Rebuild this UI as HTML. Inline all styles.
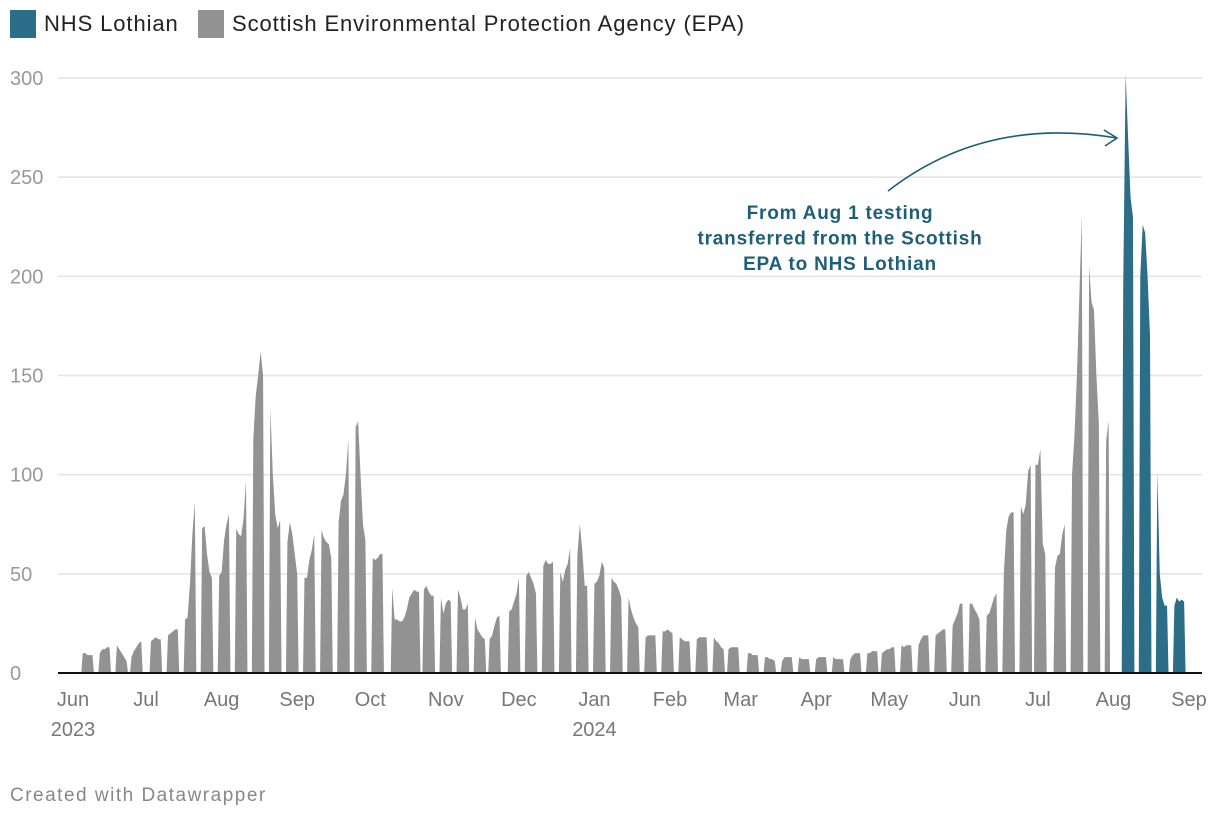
<!DOCTYPE html>
<html><head><meta charset="utf-8"><style>
body{margin:0;background:#fff;width:1220px;height:820px;overflow:hidden;font-family:"Liberation Sans",sans-serif}
.leg{position:absolute;top:10px;font-size:22px;color:#222;display:flex;align-items:center;letter-spacing:0.9px}
.sw{display:inline-block;width:26px;height:28px;margin-right:8px}
</style></head><body>
<div class="leg" style="left:10px"><span class="sw" style="background:#2c6e87"></span>NHS Lothian</div>
<div class="leg" style="left:198px"><span class="sw" style="background:#929292"></span>Scottish Environmental Protection Agency (EPA)</div>
<svg id="chart" width="1220" height="820" style="position:absolute;left:0;top:0"></svg>
<div style="position:absolute;left:10px;top:785px;font-size:19px;letter-spacing:1.5px;color:#888">Created with Datawrapper</div>
<script>
// data: day offsets from 2023-06-01, values per day
const grayStarts=[4,11,18,24,32,39,46,53,60,67,74,81,88,95,102,109,116,123,131,144,151,158,165,171,179,186,193,200,207,214,221,228,235,242,249,256,263,269,277,284,291,298,305,312,319,326,332,340,347,354,361,368,375,382,389,395,403,410,417,424];
const grayValues=[[10,10,9,9,9],[10,12,12,13,13],[14,12,10,8,6],[8,11,13,15,16],[16,17,18,17,17],[19,20,21,22,22],[27,28,45,70,86],[73,74,60,51,48],[49,51,67,75,80],[73,70,69,78,97],[118,140,150,162,150],[134,100,80,73,77],[66,76,70,60,50],[48,48,57,62,70],[72,68,66,65,58],[76,87,90,100,118],[124,127,100,75,67],[58,57,58,60,60],[43,27,27,26,26,28,32,38,40,42,41,41],[42,44,41,39,39],[38,30,35,37,36],[42,38,32,32,35],[28,22,20,18,17],[17,19,24,28,29],[31,32,36,40,48],[49,51,48,45,40],[54,57,55,55,56],[51,46,52,55,63],[60,75,62,44,44],[45,46,49,56,53],[48,46,45,42,38],[38,32,28,25,23],[18,19,19,19,19],[21,21,22,21,20],[18,17,16,16,16],[17,18,18,18,18],[18,16,15,13,12],[12,13,13,13,13],[10,10,9,9,9],[8,8,7,7,6],[6,8,8,8,8],[8,7,7,7,7],[7,8,8,8,8],[8,7,7,7,7],[7,9,10,10,10],[10,10,11,11,11],[10,11,12,12,13,13],[14,13,14,14,14],[14,17,19,19,19],[19,20,21,22,22],[24,27,30,35,35],[35,35,32,30,27],[29,30,34,38,40],[50,72,79,81,81],[84,80,85,102,105],[105,105,113,65,60],[53,59,60,70,75],[100,120,150,190,231],[205,187,183,150,126],[117,127]];
const blueStarts=[431,438,445,452];
const blueValues=[[195,302,270,240,230],[200,226,222,200,170],[102,50,38,34,34],[34,38,36,37,36]];
const yTicks=[0,50,100,150,200,250,300];
const monthLabels=["Jun","Jul","Aug","Sep","Oct","Nov","Dec","Jan","Feb","Mar","Apr","May","Jun","Jul","Aug","Sep"];
const yearLabels=[["2023",0],["2024",7]];

const NS="http://www.w3.org/2000/svg";
const svg=document.getElementById('chart');
const X0=73,PXD=(1189-73)/458;
const xs=d=>X0+d*PXD;
const ys=v=>673-v*(673-78)/300;
function el(t,a){const e=document.createElementNS(NS,t);for(const k in a)e.setAttribute(k,a[k]);svg.appendChild(e);return e;}
yTicks.forEach(t=>{
 if(t>0){const g=el('line',{x1:58,x2:1202,y1:ys(t),y2:ys(t),stroke:'#e3e3e3','stroke-width':1.5});
 
 }
 const l=el('text',{x:10,y:ys(t)+7,'font-size':20,fill:'#999','font-family':'Liberation Sans, sans-serif'});
 l.textContent=t;
 
 
});
function draw(starts,vals,color,name){
 starts.forEach((s,i)=>{
  const v=vals[i];let p=[[xs(s-0.6),ys(0)]];
  v.forEach((val,j)=>p.push([xs(s+j),ys(val)]));
  p.push([xs(s+v.length-1+0.6),ys(0)]);
  const e=el('polygon',{points:p.map(q=>q.join(',')).join(' '),fill:color});
  
  
 });
}
draw(grayStarts,grayValues,'#929292','epa');
draw(blueStarts,blueValues,'#2c6e87','nhs');
const ax=el('line',{x1:58,x2:1202,y1:673,y2:673,stroke:'#111','stroke-width':2});


monthLabels.forEach((m,i)=>{
 const d=new Date(Date.UTC(2023,5+i,1));const off=(d-Date.UTC(2023,5,1))/864e5;
 const t=el('text',{x:xs(off),y:706,'font-size':20,fill:'#777','text-anchor':'middle','font-family':'Liberation Sans, sans-serif'});
 t.textContent=m;
 
 
});
yearLabels.forEach(([y,i])=>{
 const d=new Date(Date.UTC(2023,5+i,1));const off=(d-Date.UTC(2023,5,1))/864e5;
 const t=el('text',{x:xs(off),y:736,'font-size':20,fill:'#777','text-anchor':'middle','font-family':'Liberation Sans, sans-serif'});
 t.textContent=y;
 
 
});
const arr=el('path',{d:'M888,191 C960,135 1040,125 1117,138 M1104,130 L1117,138 L1105,146',fill:'none',stroke:'#1d5f78','stroke-width':1.6});


["From Aug 1 testing","transferred from the Scottish","EPA to NHS Lothian"].forEach((s,i)=>{
 const t=el('text',{x:840,y:219+i*25.5,'font-size':19,'font-weight':'bold',fill:'#1d5f78','text-anchor':'middle','letter-spacing':'0.8','font-family':'Liberation Sans, sans-serif'});
 t.textContent=s;
 
 
});
</script>
</body></html>
